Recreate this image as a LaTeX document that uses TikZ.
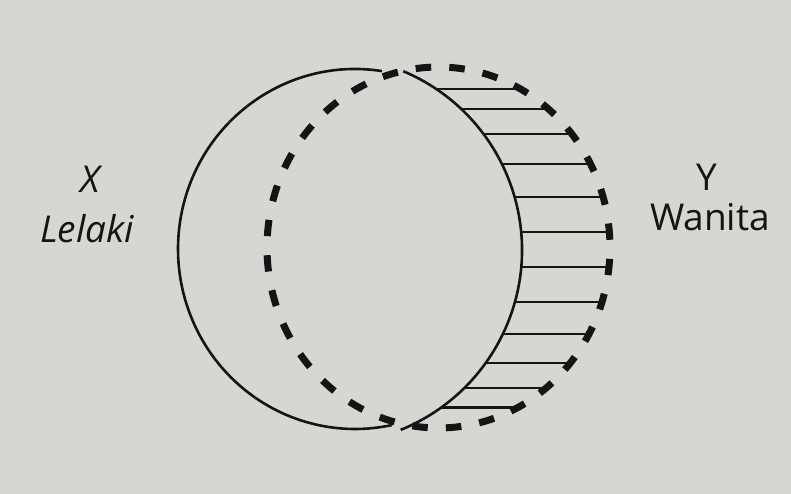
\documentclass[tikz,border=0pt]{standalone}
\usepackage{fontspec}
\setmainfont{Open Sans}
\definecolor{paper}{RGB}{214,214,211}
\definecolor{ink}{RGB}{20,20,20}
\begin{document}
\begin{tikzpicture}[x=1pt,y=-1pt,
  solidarc/.style={draw=ink, line width=2.6pt},
  dashseg/.style={draw=ink, line width=7pt, line cap=butt},
  hline/.style={draw=ink, line width=2.1pt},
  lbl/.style={text=ink, font=\fontsize{37}{44}\selectfont, anchor=base, inner sep=0pt}]
\fill[paper] (0,0) rectangle (791,494);
\useasboundingbox (0,0) rectangle (791,494);
% solid shape X: left arc and right arc
\coordinate (cl) at (355,249);
\coordinate (cr) at (328,250);
\coordinate (cd) at (438.5,247.5);
\draw[solidarc] (cl) ++(-81.2:177 and 180) arc[start angle=-81.2, end angle=-282, x radius=177, y radius=180];
\draw[solidarc] (cr) ++(-67.2:194) arc[start angle=-67.2, end angle=68, radius=194];
% horizontal lines from X to dashed Y
\foreach \k in {0,...,11}{
  \pgfmathsetmacro\th{-61.3+11.25*\k}
  \pgfmathsetmacro\yy{247.5+180.5*sin(\th)}
  \pgfmathsetmacro\xe{438.5+171.5*cos(\th)}
  \pgfmathsetmacro\q{(\yy-250)/194}
  \pgfmathsetmacro\xs{328+194*sqrt(1-\q*\q)}
  \coordinate (s\k) at (\xs,\yy);
  \coordinate (e\k) at (\xe,\yy);
  \draw[hline] (s\k) -- (e\k);
}
% dashed circle Y
\foreach \i in {0,...,31}{
  \pgfmathsetmacro\a{-61.3+11.25*\i}
  \draw[dashseg] (cd) ++(\a-2.6:171.5 and 180.5) arc[start angle=\a-2.6, end angle=\a+2.6, x radius=171.5, y radius=180.5];
}
% labels
\node[lbl] (xl) at (90,193) {\itshape X};
\node[lbl] (xn) at (87,242) {\itshape Lelaki};
\node[lbl] (yl) at (707,191) {Y};
\node[lbl] (yn) at (710,230) {Wanita};
\end{tikzpicture}
\end{document}
